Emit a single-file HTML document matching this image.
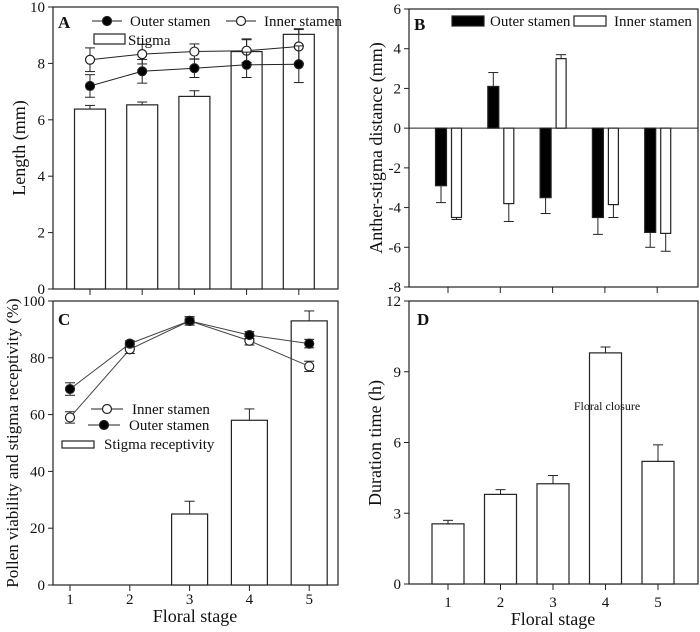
<!DOCTYPE html>
<html><head><meta charset="utf-8"><style>
body{margin:0;background:#fff}
svg{display:block;font-family:"Liberation Serif",serif}
</style></head><body>
<svg id="s" width="700" height="632"></svg>
<script>
const stages=["1","2","3","4","5"];
// Panel A
const aStigma=[6.38,6.53,6.83,8.42,9.03];
const aStigmaErr=[0.13,0.1,0.2,0.42,0.2];
const aOuter=[7.2,7.72,7.83,7.95,7.97];
const aOuterErr=[0.4,0.42,0.33,0.45,0.65];
const aInner=[8.13,8.33,8.42,8.45,8.6];
const aInnerErr=[0.42,0.35,0.27,0.42,0.6];
const aTicks=[0,2,4,6,8,10];
// Panel B
const bOuter=[-2.9,2.1,-3.5,-4.5,-5.25];
const bOuterErr=[0.85,0.7,0.8,0.85,0.75];
const bInner=[-4.5,-3.8,3.5,-3.85,-5.3];
const bInnerErr=[0.1,0.9,0.2,0.65,0.9];
const bTicks=[-8,-6,-4,-2,0,2,4,6];
// Panel C
const cInner=[59,83,93,86,77];
const cInnerErr=[2,1.5,1.5,1.5,1.8];
const cOuter=[69,85,93,88,85];
const cOuterErr=[2.2,1,1,1.2,1.5];
const cStigma=[0,0,25,58,93];
const cStigmaErr=[0,0,4.5,4,3.5];
const cTicks=[0,20,40,60,80,100];
// Panel D
const dDur=[2.55,3.8,4.25,9.8,5.2];
const dDurErr=[0.15,0.2,0.35,0.25,0.7];
const dTicks=[0,3,6,9,12];

const S=document.getElementById('s');const NS='http://www.w3.org/2000/svg';
function el(t,a,txt){const e=document.createElementNS(NS,t);for(const k in a)e.setAttribute(k,a[k]);if(txt!=null)e.textContent=txt;S.appendChild(e);return e;}
function line(x1,y1,x2,y2,name,w){const e=el('line',{x1,y1,x2,y2,stroke:'#222','stroke-width':w||1});

return e;}
function text(x,y,s,size,name,anchor,extra){const e=el('text',Object.assign({x,y,'font-size':size,'text-anchor':anchor||'middle',fill:'#111'},extra||{}),s);

return e;}
function rect(x,y,w,h,fill,name){const e=el('rect',{x,y,width:w,height:h,fill,stroke:'#222','stroke-width':1.2});

return e;}
function circ(x,y,fill,name){const e=el('circle',{cx:x,cy:y,r:4.5,fill,stroke:'#222','stroke-width':1.2});

return e;}
function err(x,y1,y2,name){line(x,y1,x,y2,name);line(x-5,y2,x+5,y2,name+'-cap');}
function frame(L,T,R,B,ticks,ys,xt,p){rect(L,T,R-L,B-T,'none',p+'-plot-frame');
ticks.forEach(t=>{line(L-5,ys(t),L,ys(t),p+'-y-tick');text(L-8,ys(t)+5,String(t),15,p+'-y-tick-label','end');});
xt.forEach(x=>line(x,B,x,B+6,p+'-x-tick'));}

// Panel A
(function(){const L=53,T=7,R=338,B=289;const ys=v=>B-(v-0)/10*(B-T);const xs=i=>90+i*52.2;
frame(L,T,R,B,aTicks,ys,stages.map((s,i)=>xs(i)),'a');
aStigma.forEach((v,i)=>{err(xs(i),ys(v),ys(v+aStigmaErr[i]),'a-stigma-error');rect(xs(i)-15.5,ys(v),31,B-ys(v),'#fff','a-stigma-bar');});
[[aInner,aInnerErr,'#fff','a-inner'],[aOuter,aOuterErr,'#000','a-outer']].forEach(([d,e,f,n])=>{
d.forEach((v,i)=>{err(xs(i),ys(v),ys(v+e[i]),n+'-error');err(xs(i),ys(v),ys(v-e[i]),n+'-error');});
el('polyline',{points:d.map((v,i)=>xs(i)+','+ys(v)).join(' '),fill:'none',stroke:'#222'});
d.forEach((v,i)=>circ(xs(i),ys(v),f,n+'-point'));});
text(58,28,'A',17,'panel-a-label','start',{'font-weight':'bold'});
line(92,21,122,21,'legend-outer-line');circ(107,21,'#000','legend-outer-marker');text(130,26,'Outer stamen',15,'legend-outer-label','start');
line(226,21,256,21,'legend-inner-line');circ(241,21,'#fff','legend-inner-marker');text(264,26,'Inner  stamen',15,'legend-inner-label','start');
rect(94,34,31,10,'#fff','legend-stigma-swatch');text(128,45,'Stigma',15,'legend-stigma-label','start');
text(0,0,'Length (mm)',18,'a-y-axis-title','middle',{transform:'translate(25,148) rotate(-90)'});})();

// Panel B
(function(){const L=409,T=9,R=698,B=287;const ys=v=>B-(v+8)/14*(B-T);const xs=i=>448+i*52.3;
frame(L,T,R,B,bTicks,ys,stages.map((s,i)=>xs(i)),'b');
line(L,ys(0),R,ys(0),'b-zero-line');
bOuter.forEach((v,i)=>{const x=xs(i)-7;const e=v>=0?v+bOuterErr[i]:v-bOuterErr[i];err(x,ys(v),ys(e),'b-outer-error');
rect(x-5.5,Math.min(ys(v),ys(0)),11,Math.abs(ys(v)-ys(0)),'#000','b-outer-bar');});
bInner.forEach((v,i)=>{const x=xs(i)+8.5;const e=v>=0?v+bInnerErr[i]:v-bInnerErr[i];err(x,ys(v),ys(e),'b-inner-error');
rect(x-5,Math.min(ys(v),ys(0)),10,Math.abs(ys(v)-ys(0)),'#fff','b-inner-bar');});
text(414,30,'B',17,'panel-b-label','start',{'font-weight':'bold'});
rect(452,16,32,10,'#000','legend-b-outer-swatch');text(490,26,'Outer  stamen',15,'legend-b-outer-label','start');
rect(574,16,32,10,'#fff','legend-b-inner-swatch');text(614,26,'Inner stamen',15,'legend-b-inner-label','start');
text(0,0,'Anther-stigma distance (mm)',18,'b-y-axis-title','middle',{transform:'translate(382,148) rotate(-90)'});})();

// Panel C
(function(){const L=53,T=301,R=338,B=585;const ys=v=>B-v/100*(B-T);const xs=i=>70+i*59.8;
frame(L,T,R,B,cTicks,ys,stages.map((s,i)=>xs(i)),'c');
stages.forEach((s,i)=>text(xs(i),604,s,15,'c-x-tick-label'));
cStigma.forEach((v,i)=>{if(v<=0)return;err(xs(i),ys(v),ys(v+cStigmaErr[i]),'c-stigma-error');rect(xs(i)-18,ys(v),36,B-ys(v),'#fff','c-stigma-bar');});
[[cInner,cInnerErr,'#fff','c-inner'],[cOuter,cOuterErr,'#000','c-outer']].forEach(([d,e,f,n])=>{
d.forEach((v,i)=>{err(xs(i),ys(v),ys(v+e[i]),n+'-error');err(xs(i),ys(v),ys(v-e[i]),n+'-error');});
el('polyline',{points:d.map((v,i)=>xs(i)+','+ys(v)).join(' '),fill:'none',stroke:'#444'});
d.forEach((v,i)=>circ(xs(i),ys(v),f,n+'-point'));});
text(58,325,'C',17,'panel-c-label','start',{'font-weight':'bold'});
line(91,409,123,409,'legend-c-inner-line');circ(107,409,'#fff','legend-c-inner-marker');text(132,414,'Inner stamen',15,'legend-c-inner-label','start');
line(88,425,120,425,'legend-c-outer-line');circ(104,425,'#000','legend-c-outer-marker');text(129,430,'Outer stamen',15,'legend-c-outer-label','start');
rect(62,441,32,7,'#fff','legend-c-stigma-swatch');text(104,449,'Stigma receptivity',15,'legend-c-stigma-label','start');
text(195,622,'Floral stage',18,'c-x-axis-title');
text(0,0,'Pollen viability and stigma receptivity (%)',17,'c-y-axis-title','middle',{transform:'translate(18,443) rotate(-90)'});})();

// Panel D
(function(){const L=409,T=301,R=698,B=584;const ys=v=>B-v/12*(B-T);const xs=i=>448+i*52.5;
frame(L,T,R,B,dTicks,ys,stages.map((s,i)=>xs(i)),'d');
stages.forEach((s,i)=>text(xs(i),607,s,15,'d-x-tick-label'));
dDur.forEach((v,i)=>{err(xs(i),ys(v),ys(v+dDurErr[i]),'d-duration-error');rect(xs(i)-16,ys(v),32,B-ys(v),'#fff','d-duration-bar');});
text(607,410,'Floral closure',12,'floral-closure-annotation');
text(417,325,'D',17,'panel-d-label','start',{'font-weight':'bold'});
text(553,625,'Floral stage',18,'d-x-axis-title');
text(0,0,'Duration time (h)',18,'d-y-axis-title','middle',{transform:'translate(381,443) rotate(-90)'});})();
</script>
</body></html>
